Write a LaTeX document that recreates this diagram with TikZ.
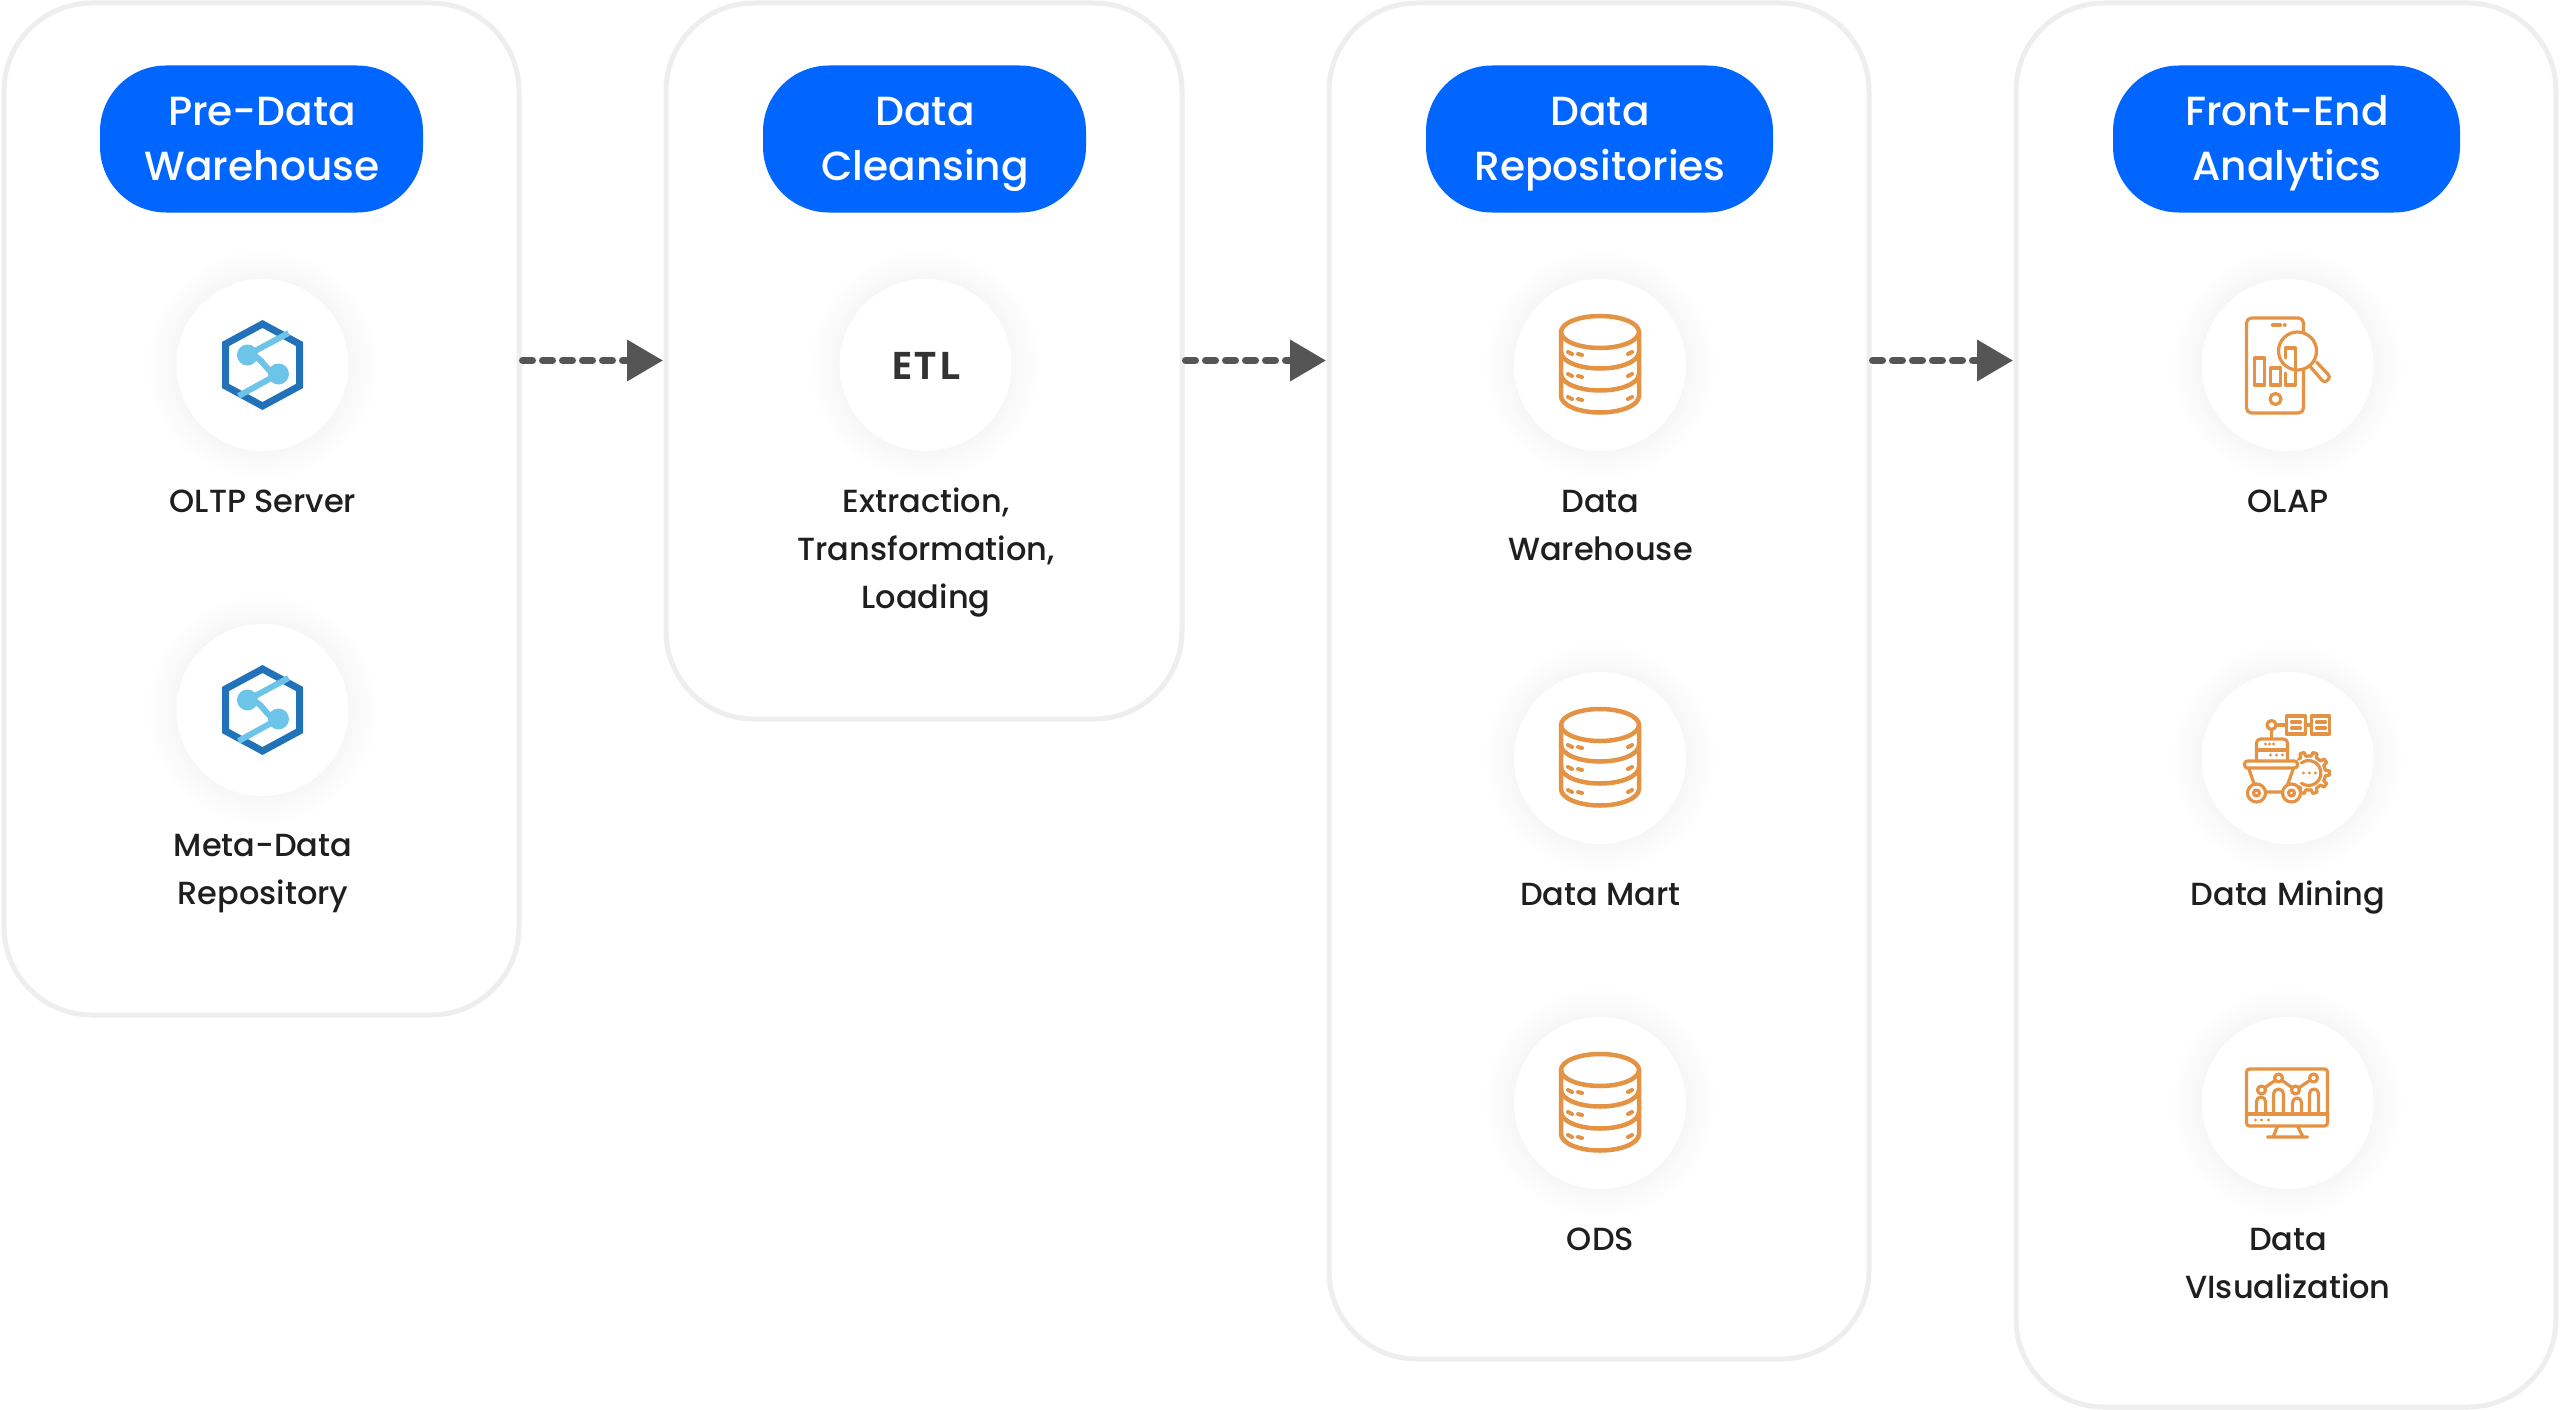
\documentclass[tikz,border=0pt]{standalone}
\usepackage{fontspec}
\setmainfont{Poppins Medium}
\newfontfamily\etlfont[LetterSpace=6]{Open Sans Bold}
\usetikzlibrary{arrows.meta}
\definecolor{panelgrey}{HTML}{EEEEEE}
\definecolor{headblue}{HTML}{0066FF}
\definecolor{arrowgrey}{HTML}{555555}
\definecolor{labelink}{HTML}{1F1F1F}
\definecolor{iconorange}{HTML}{E39343}
\definecolor{hexblue}{HTML}{2272B9}
\definecolor{hexlight}{HTML}{6CC4E8}
\tikzset{
  x=1pt,y=-1pt,
  panel/.style={draw=panelgrey,line width=5pt,fill=white,rectangle,rounded corners=88pt,inner sep=0,outer sep=0},
  head/.style={fill=headblue,text=white,rectangle,rounded corners=66pt,inner sep=0,outer sep=0,minimum height=147pt,align=center,
    font=\fontsize{40.7}{55}\selectfont},
  disc/.style={circle,fill=white,minimum size=172pt,inner sep=0,outer sep=0},
  lab/.style={text=labelink,align=center,inner sep=0,font=\fontsize{32}{48}\selectfont},
  flow/.style={draw=arrowgrey,line width=7pt,line cap=round,dash pattern=on 10pt off 10pt,shorten >=3pt,shorten <=3.5pt,
    -{Triangle[length=36pt,width=40pt,fill=arrowgrey]}},
  ico/.style={draw=iconorange,line width=4pt,line cap=round,line join=round},
  pics/halo/.style={code={
    \foreach \r in {116,114,...,86}{
      \pgfmathsetmacro{\k}{(116-\r)/30*3.2}
      \fill[black!\k!white] (0,0) circle [radius=\r];
    }
  }},
  pics/hexicon/.style={code={
    \draw[hexblue,line width=7pt,line join=miter] (0,-41) -- (37,-21) -- (37,21) -- (0,41) -- (-37,21) -- (-37,-21) -- cycle;
    \draw[hexlight,line width=6pt] (26,-32) -- (-15,-10) .. controls (2,-10) and (2,9) .. (16,9) -- (-24,31);
    \fill[hexlight] (-15,-10) circle [radius=10.5] (16,9) circle [radius=10.5];
  }},
  pics/dbicon/.style={code={
    \draw[ico,line width=4.5pt] (0,-33) ellipse [x radius=39,y radius=16];
    \draw[ico,line width=4.5pt] (-39,-33) -- (-39,31) arc [start angle=180,end angle=0,x radius=39,y radius=16.5] -- (39,-33);
    \draw[ico,line width=4.5pt] (-39,-13) arc [start angle=180,end angle=0,x radius=39,y radius=16.5];
    \draw[ico,line width=4.5pt] (-39,9) arc [start angle=180,end angle=0,x radius=39,y radius=16.5];
    \foreach \y in {-12,10,33}{
      \draw[ico] (-32,\y-1) -- (-28,\y+1) (-22,\y+1) -- (-18,\y+2) (28,\y+1) -- (32,\y-1);
    }
  }},
  pics/olapicon/.style={code={
    \draw[ico,line width=3.2pt,rounded corners=5pt] (-41,-47) rectangle (16,48);
    \draw[ico,line width=3.2pt] (-15,-40) -- (-7,-40) (-3,-40) -- (-2.5,-40);
    \draw[ico,line width=3.2pt] (-12,34) circle [radius=5.5];
    \draw[ico,line width=3.2pt] (-33,-7) rectangle (-23,20);
    \draw[ico,line width=3.2pt] (-17,3) rectangle (-7,20);
    \draw[ico,line width=3.2pt,fill=white] (10,-14) circle [radius=19];
    \draw[ico,line width=3.2pt] (-2,-7) -- (-2,-17) -- (8,-17) -- (8,20) -- (-2,20) -- (-2,8);
    \draw[ico,line width=3.2pt,rounded corners=3pt] (23,2) -- (37,18) -- (43,12) -- (29,-3);
  }},
  pics/miningicon/.style={code={
    \begin{scope}[ico,line width=3.2pt]
    \draw (-1,-42) rectangle (18,-24);
    \draw (24,-42) rectangle (42,-24);
    \draw (18,-33) -- (24,-33) (-11,-33) -- (-1,-33) (-16,-28) -- (-16,-19);
    \draw (-16,-33) circle [radius=4.5];
    \draw (4,-36) -- (13,-36) (4,-30) -- (13,-30) (29,-36) -- (38,-36) (29,-30) -- (38,-30);
    \foreach \a in {-108,-72,...,108}{
      \draw[shift={(21,15)}] (\a-18:17) -- (\a-9:17) -- (\a-6:21) -- (\a+6:21) -- (\a+9:17) -- (\a+18:17);
    }
    \draw[shift={(21,15)}] (-125:12.5) arc [start angle=-125,end angle=125,radius=12.5];
    \draw (16,15) -- (16,15) (22,15) -- (22,15) (28,15) -- (28,15);
    \draw[rounded corners=4pt,fill=white] (-31,3) -- (-31,-19) -- (0,-19) -- (0,3);
    \draw (-31,-8) -- (0,-8);
    \draw (-22,-14) -- (-22,-14) (-18,-14) -- (-18,-14) (-14,-14) -- (-14,-14);
    \draw (-17,-3) -- (-17,-3) (-11,-3) -- (-11,-3) (-5,-3) -- (-5,-3);
    \fill[white,draw=none] (-39,10) -- (-33,27) -- (0,27) -- (6,10) -- cycle;
    \draw[fill=white,rounded corners=3pt] (-43,3) rectangle (10,10);
    \draw (-39,10) -- (-33,27) (6,10) -- (0,27) (-24,34) -- (-5,34);
    \draw[fill=white] (-31,35) circle [radius=9];
    \draw (-31,35) circle [radius=3];
    \draw[fill=white] (4,35) circle [radius=9];
    \draw (4,35) circle [radius=3];
    \end{scope}
  }},
  pics/vizicon/.style={code={
    \begin{scope}[ico,line width=3.2pt]
    \draw[rounded corners=3pt] (-41,-34) rectangle (40,23);
    \draw (-41,11) -- (40,11);
    \draw (-32,17) -- (-32,17) (-26,17) -- (-26,17) (-19,17) -- (-19,17);
    \draw (-10,23) -- (-14,33) (10,23) -- (15,33) (-20,34) -- (20,34);
    \draw (-31,11) -- (-31,-1.5) arc [start angle=180,end angle=360,radius=4.5] -- (-22,11);
    \draw (-14,11) -- (-14,-9) arc [start angle=180,end angle=360,radius=5] -- (-4,11);
    \draw (5,11) -- (5,-.5) arc [start angle=180,end angle=360,radius=4.5] -- (14,11);
    \draw (22,11) -- (22,-9.5) arc [start angle=180,end angle=360,radius=4.5] -- (31,11);
    \draw (-26,-13) -- (-9,-25) -- (8,-13) -- (26,-25);
    \foreach \p in {(-26,-13),(-9,-25),(8,-13),(26,-25)}{
      \draw[fill=white] \p circle [radius=4];
    }
    \end{scope}
  }}
}
\begin{document}
\begin{tikzpicture}
\useasboundingbox (0,0) rectangle (2560,1410);
\fill[white] (0,0) rectangle (2560,1410);
\coordinate (flowline) at (0,360.5);

% panels
\node[panel,minimum width=515pt,minimum height=1012pt] (p1) at (261.5,509) {};
\node[panel,minimum width=516pt,minimum height=716pt] (p2) at (924,361) {};
\node[panel,minimum width=540pt,minimum height=1356pt] (p3) at (1599,681) {};
\node[panel,minimum width=540pt,minimum height=1404pt] (p4) at (2286,705) {};

% headers
\node[head,minimum width=323pt] (h1) at (261.5,139) {};
\node[head,minimum width=323pt] (h2) at (924.5,139) {};
\node[head,minimum width=347pt] (h3) at (1599.5,139) {};
\node[head,minimum width=347pt] (h4) at (2286.5,139) {};
\node[head,fill=none,yshift=-3.5pt,xshift=.5pt] (t1) at (h1) {Pre-Data\strut\\Warehouse\strut};
\node[head,fill=none,yshift=-3.5pt,xshift=.5pt] (t2) at (h2) {Data\strut\\Cleansing\strut};
\node[head,fill=none,yshift=-3.5pt,xshift=.5pt] (t3) at (h3) {Data\strut\\Repositories\strut};
\node[head,fill=none,yshift=-3.5pt,xshift=.5pt] (t4) at (h4) {Front-End\strut\\Analytics\strut};

% discs
\foreach \n/\cx/\cy in {c1/262.5/365,c2/262.5/710,c3/925.5/365,c4/1600/365,c5/1600/758,c6/1600/1103,c7/2287.5/365,c8/2287.5/758,c9/2287.5/1103}{
  \pic at (\cx,\cy) {halo};
  \node[disc] (\n) at (\cx,\cy) {};
}

% icons
\pic at (c1) {hexicon};
\pic at (c2) {hexicon};
\node[font=\etlfont\fontsize{38}{44}\selectfont,text=black!80,inner sep=0] (etl) at (926,366) {ETL};
\pic at (c4) {dbicon};
\pic at (c5) {dbicon};
\pic at (c6) {dbicon};
\pic at (c7) {olapicon};
\pic at (c8) {miningicon};
\pic at (c9) {vizicon};

% labels
\node[lab] (l1) at (263,503) {OLTP Server\strut};
\node[lab] (l2) at (263,871) {Meta-Data\strut\\Repository\strut};
\node[lab] (l3) at (926,551) {Extraction,\strut\\Transformation,\strut\\Loading\strut};
\node[lab] (l4) at (1600.5,527) {Data\strut\\Warehouse\strut};
\node[lab] (l5) at (1600.5,896) {Data Mart\strut};
\node[lab] (l6) at (1600.5,1241) {ODS\strut};
\node[lab] (l7) at (2288,503) {OLAP\strut};
\node[lab] (l8) at (2288,896) {Data Mining\strut};
\node[lab] (l9) at (2288,1265) {Data\strut\\VIsualization\strut};

% connectors
\draw[flow] (p1.east |- flowline) -- (p2.west |- flowline);
\draw[flow] (p2.east |- flowline) -- (p3.west |- flowline);
\draw[flow] (p3.east |- flowline) -- (p4.west |- flowline);
\end{tikzpicture}
\end{document}
